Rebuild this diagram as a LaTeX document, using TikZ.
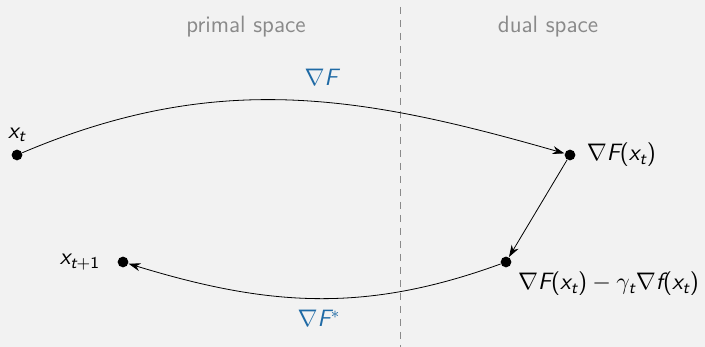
\documentclass[tikz,border=0pt]{standalone}
\usetikzlibrary{arrows.meta}
% sans slanted letters in math, sans digits and brackets
\DeclareSymbolFont{sfsl}{TU}{lmss}{m}{sl}
\SetSymbolFont{operators}{normal}{TU}{lmss}{m}{n}
\DeclareMathSymbol{x}{\mathalpha}{sfsl}{`x}
\DeclareMathSymbol{t}{\mathalpha}{sfsl}{`t}
\DeclareMathSymbol{F}{\mathalpha}{sfsl}{`F}
\DeclareMathSymbol{f}{\mathalpha}{sfsl}{`f}
\definecolor{bgcol}{HTML}{F2F2F2}
\definecolor{mapblue}{HTML}{1F6AA5}
\definecolor{spacegray}{HTML}{8A8A8A}
\tikzset{
  pt/.style={circle, fill=black, inner sep=1.9pt},
  maparrow/.style={-{Stealth[length=6pt,width=4pt]}, thin},
  maplabel/.style={text=mapblue},
}
\begin{document}
\begin{tikzpicture}[x=0.5pt, y=0.5pt, every node/.style={font=\fontsize{11.8}{14}\sffamily}]
  \fill[bgcol] (0,0) rectangle (705,347);
  \useasboundingbox (0,0) rectangle (705,347);

  % --- spaces ---
  \draw[spacegray, dash pattern=on 3.5pt off 3pt] (400,340) -- (400,0);
  \node[text=spacegray] (primal) at (246,320) {primal space};
  \node[text=spacegray] (dual) at (548,320) {dual space};

  % --- points ---
  \node[pt, label={[label distance=0pt]above:$x_t$}] (xt) at (17,192) {};
  \node[pt, label={[label distance=2pt]right:$\nabla F(x_t)$}] (gx) at (570,192) {};
  \node[pt, label={[label distance=0pt]-30:$\nabla F(x_t)-\gamma_t\nabla f(x_t)$}] (gy) at (506,85) {};
  \node[pt, label={[label distance=5pt]left:$x_{t+1}$}] (xn) at (123,85) {};

  % --- maps ---
  \draw[maparrow] (xt) to[out=23, in=164] node[pos=0.56, above=5pt, maplabel] (nf) {$\nabla F$} (gx);
  \draw[maparrow] (gx) -- (gy);
  \draw[maparrow] (gy) to[out=200, in=-17] node[pos=0.49, below=2.5pt, maplabel] (nfs) {$\nabla F^*$} (xn);
\end{tikzpicture}
\end{document}
